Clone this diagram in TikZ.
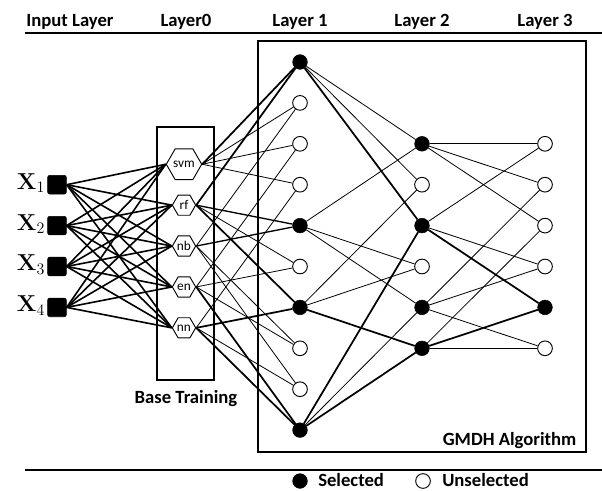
\documentclass[tikz,border=0pt]{standalone}
\usepackage[no-math]{fontspec}
\setmainfont{Carlito}
\usetikzlibrary{positioning,shapes.geometric}

\tikzset{
  chosen/.style={circle,draw,fill=black,minimum size=11pt,inner sep=0pt},
  dropped/.style={circle,draw,fill=white,minimum size=11pt,inner sep=0pt,line width=0.7pt},
  feature/.style={rectangle,draw,fill=black,rounded corners=1.5pt,minimum size=14pt,inner sep=0pt},
  learner/.style={regular polygon,regular polygon sides=6,draw,fill=white,minimum size=17.5pt,
    inner sep=0pt,line width=0.7pt,font=\fontsize{10}{11}\selectfont},
  head/.style={font=\bfseries\fontsize{14}{16}\selectfont,anchor=base},
  link/.style={line width=0.6pt},
  keylink/.style={line width=1.3pt},
}

\begin{document}
\begin{tikzpicture}[x=0.75pt,y=0.75pt,node distance=30.675pt,on grid]
	\useasboundingbox (0,0) rectangle (602,490);
	% headings and rules
	\node[head] (h_in) at (70,463) {Input Layer};
	\node[head] (h_0) at (186,463) {Layer0};
	\node[head] (h_1) at (300,463) {Layer 1};
	\node[head] (h_2) at (422,463) {Layer 2};
	\node[head] (h_3) at (545,463) {Layer 3};
	\draw[line width=1pt] (25,457) -- (602,457);
	\draw[line width=1pt] (25,20) -- (602,20);
	% boxes
	\draw[line width=0.8pt] (157,363) rectangle (214,110);
	\draw[line width=1.2pt] (258,449) rectangle (586,38);
	\node[head] (t_base) at (186,87) {Base Training};
	\node[head,anchor=base east] (t_gmdh) at (581,45) {GMDH Algorithm};

	% inputs
	\node[feature] (x_1) at (57,305.3) {};
	\node[feature] [below=of x_1] (x_2) {};
	\node[feature] [below=of x_2] (x_3) {};
	\node[feature] [below=of x_3] (x_4) {};
	\node[font=\fontsize{17}{20}\selectfont] [left=19.5pt of x_1,yshift=1.3pt] (lx_1) {$\mathbf{X}_1$};
	\node[font=\fontsize{17}{20}\selectfont] [left=19.5pt of x_2,yshift=1.3pt] (lx_2) {$\mathbf{X}_2$};
	\node[font=\fontsize{17}{20}\selectfont] [left=19.5pt of x_3,yshift=1.3pt] (lx_3) {$\mathbf{X}_3$};
	\node[font=\fontsize{17}{20}\selectfont] [left=19.5pt of x_4,yshift=1.3pt] (lx_4) {$\mathbf{X}_4$};

	% base learners
	\node[learner] (svm) at (184,325.75) {svm};
	\node[learner] [below=of svm] (rf) {rf};
	\node[learner] [below=of rf] (nb) {nb};
	\node[learner] [below=of nb] (en) {en};
	\node[learner] [below=of en] (nn) {nn};

	% layer 1
	\node[chosen] (l1_1) at (300,428) {};
	\node[dropped] [below=of l1_1] (l1_2) {};
	\node[dropped] [below=of l1_2] (l1_3) {};
	\node[dropped] [below=of l1_3] (l1_4) {};
	\node[chosen] [below=of l1_4] (l1_5) {};
	\node[dropped] [below=of l1_5] (l1_6) {};
	\node[chosen] [below=of l1_6] (l1_7) {};
	\node[dropped] [below=of l1_7] (l1_8) {};
	\node[dropped] [below=of l1_8] (l1_9) {};
	\node[chosen] [below=of l1_9] (l1_10) {};

	% layer 2
	\node[chosen] (l2_1) at (422,346.2) {};
	\node[dropped] [below=of l2_1] (l2_2) {};
	\node[chosen] [below=of l2_2] (l2_3) {};
	\node[dropped] [below=of l2_3] (l2_4) {};
	\node[chosen] [below=of l2_4] (l2_5) {};
	\node[chosen] [below=of l2_5] (l2_6) {};

	% layer 3
	\node[dropped] (l3_1) at (545,346.2) {};
	\node[dropped] [below=of l3_1] (l3_2) {};
	\node[dropped] [below=of l3_2] (l3_3) {};
	\node[dropped] [below=of l3_3] (l3_4) {};
	\node[chosen] [below=of l3_4] (l3_5) {};
	\node[dropped] [below=of l3_5] (l3_6) {};

	% legend
	\node[chosen] (key_sel) at (300,9) {};
	\node[head,anchor=base west,inner sep=0pt] (key_sel_t) at (318,3.5) {Selected};
	\node[dropped] (key_uns) at (423,9) {};
	\node[head,anchor=base west,inner sep=0pt] (key_uns_t) at (442,3.5) {Unselected};

	% inputs to base learners
	\foreach \i in {1,...,4}
		\foreach \b in {svm,rf,nb,en,nn}
			\draw[line width=1.2pt] (x_\i.east) -- (\b.west);

	% base learners to layer 1
	\path[link]
		(svm.east) edge (l1_2) (svm.east) edge (l1_3) (svm.east) edge (l1_4)
		(rf.east) edge (l1_6)
		(nb.east) edge (l1_8) (nb.east) edge (l1_9)
		(en.east) edge (l1_3) (en.east) edge (l1_6) (en.east) edge (l1_8)
		(nn.east) edge (l1_4) (nn.east) edge (l1_9)
		(nb.east) edge (l1_2);
	\path[line width=1pt]
		(rf.east) edge (l1_5) (nb.east) edge (l1_5);
	\path[keylink]
		(svm.east) edge (l1_1) (rf.east) edge (l1_1)
		(rf.east) edge (l1_7) (nn.east) edge (l1_7)
		(en.east) edge (l1_10) (nn.east) edge (l1_10);

	% layer 1 to layer 2
	\path[link]
		(l1_1) edge (l2_1) (l1_5) edge (l2_1)
		(l1_1) edge (l2_2) (l1_7) edge (l2_2)
		(l1_5) edge (l2_4) (l1_7) edge (l2_4)
		(l1_5) edge (l2_5) (l1_10) edge (l2_5);
	\path[keylink]
		(l1_1) edge (l2_3) (l1_10) edge (l2_3)
		(l1_7) edge (l2_6) (l1_10) edge (l2_6);

	% layer 2 to layer 3
	\path[link]
		(l2_1) edge (l3_1) (l2_3) edge (l3_1)
		(l2_1) edge (l3_2) (l2_5) edge (l3_2)
		(l2_1) edge (l3_3) (l2_6) edge (l3_3)
		(l2_3) edge (l3_4) (l2_5) edge (l3_4)
		(l2_5) edge (l3_6) (l2_6) edge (l3_6);
	\path[keylink]
		(l2_3) edge (l3_5) (l2_6) edge (l3_5);
\end{tikzpicture}
\end{document}
